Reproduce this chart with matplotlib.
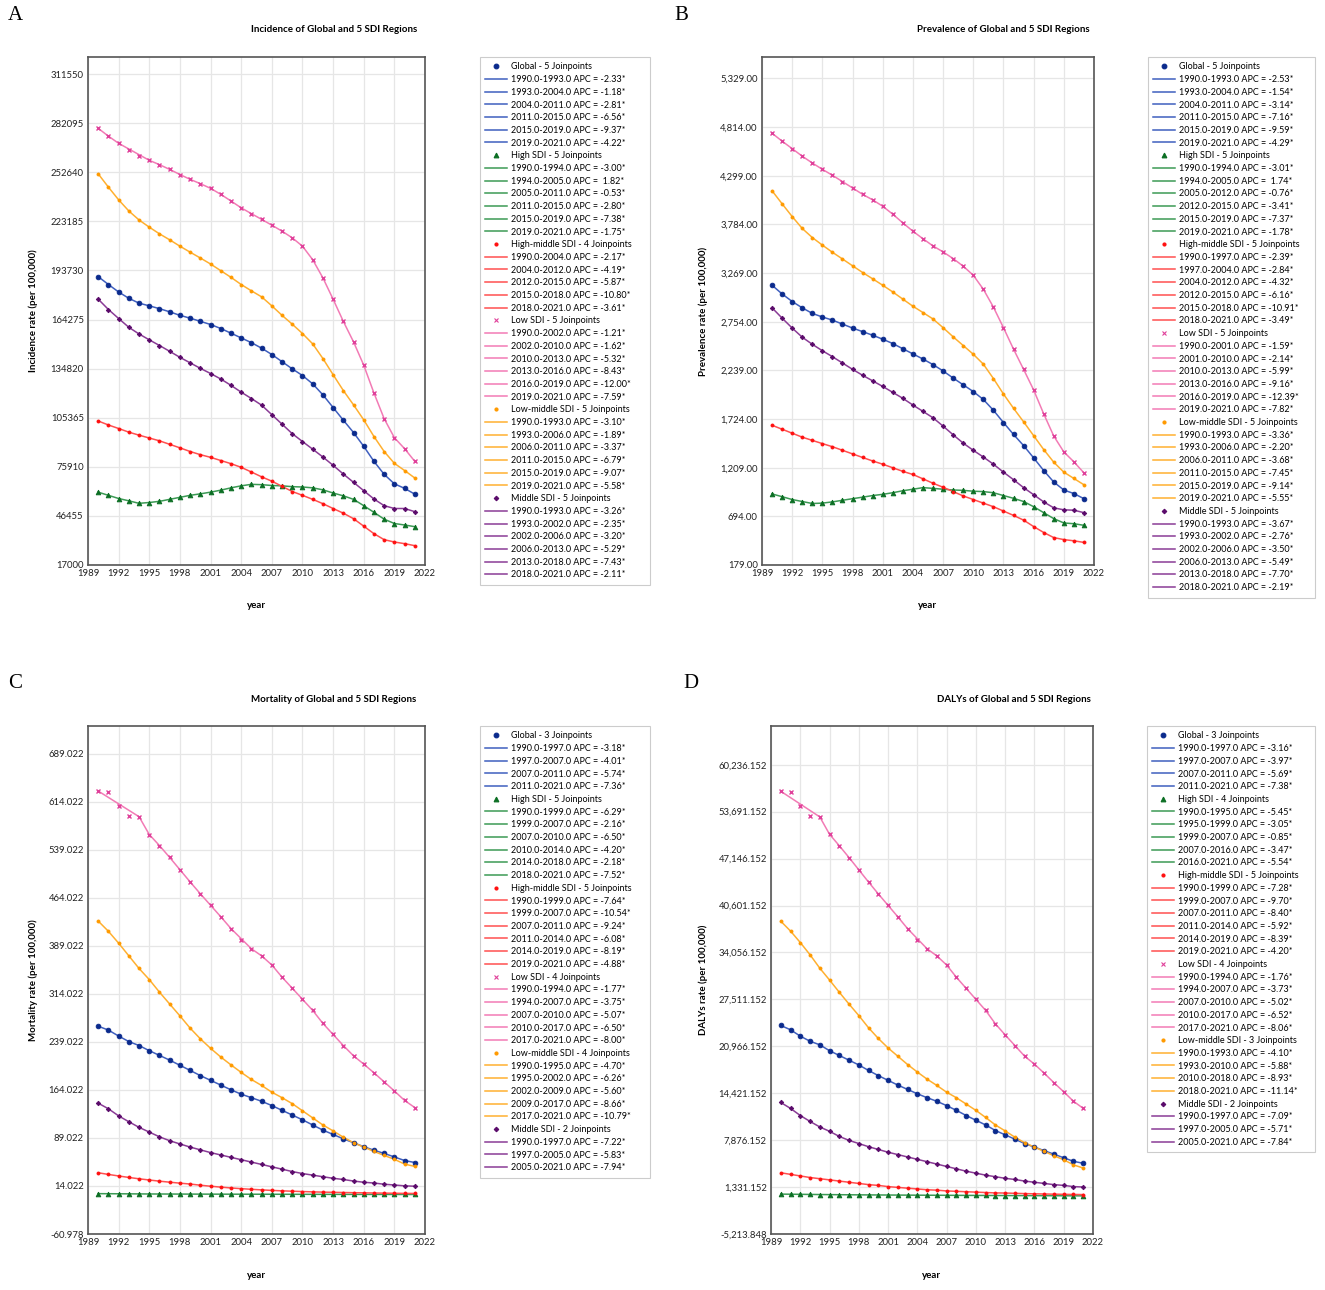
import matplotlib
matplotlib.use('Agg')
import matplotlib.pyplot as plt
from matplotlib.lines import Line2D
from matplotlib.ticker import FixedLocator

plt.rcParams['font.family'] = ['Lato', 'DejaVu Sans']

years = list(range(1990, 2022))

# ---- Incidence (A) ----
inc_global = [190000, 185300, 180800, 177000, 174100, 172500, 170800, 168900, 166800, 165100, 163200, 161300, 158900, 156100, 153200, 150400, 147100, 143300, 139000, 134700, 130700, 125700, 119100, 111500, 103900, 96500, 88200, 79200, 71400, 65700, 63000, 59500]
inc_high = [60700, 58800, 56900, 55500, 54000, 54500, 55200, 56400, 57600, 58800, 59700, 60700, 61900, 63300, 64500, 65400, 65200, 64700, 64500, 64000, 63800, 63300, 62100, 60200, 58500, 56400, 52600, 48600, 44500, 41900, 41000, 40000]
inc_highmid = [103400, 101000, 98900, 96700, 94900, 93200, 91500, 89400, 87300, 85100, 83200, 81600, 79700, 77800, 75600, 72800, 69900, 67300, 64200, 61100, 58800, 56400, 53800, 50900, 48100, 44800, 40300, 35800, 32200, 30800, 29800, 28600]
inc_low = [279000, 274300, 270000, 266200, 262400, 259800, 257200, 254350, 251300, 248400, 245800, 243000, 239400, 235400, 231300, 227800, 224400, 220900, 217300, 213300, 208300, 200200, 189300, 176500, 163200, 150900, 136900, 120200, 104800, 93400, 86800, 79200]
inc_lowmid = [251700, 243700, 236100, 229400, 224000, 219700, 215700, 212100, 208300, 204700, 201200, 197600, 193600, 189600, 185300, 181500, 177900, 172500, 166800, 161500, 155900, 149700, 140900, 131200, 121700, 113100, 104100, 94100, 85100, 78000, 73700, 69200]
inc_middle = [176500, 170300, 164900, 159600, 155600, 152100, 148700, 145200, 141600, 138300, 135000, 131900, 128600, 124800, 120700, 116900, 112900, 107200, 101500, 95800, 91100, 86500, 81800, 76800, 71600, 66600, 61600, 56600, 52600, 50900, 50900, 49000]

inc_global_seg = [(1990, 1993, -2.33), (1993, 2004, -1.18), (2004, 2011, -2.81), (2011, 2015, -6.56), (2015, 2019, -9.37), (2019, 2021, -4.22)]
inc_high_seg = [(1990, 1994, -3.00), (1994, 2005, 1.82), (2005, 2011, -0.53), (2011, 2015, -2.80), (2015, 2019, -7.38), (2019, 2021, -1.75)]
inc_highmid_seg = [(1990, 2004, -2.17), (2004, 2012, -4.19), (2012, 2015, -5.87), (2015, 2018, -10.80), (2018, 2021, -3.61)]
inc_low_seg = [(1990, 2002, -1.21), (2002, 2010, -1.62), (2010, 2013, -5.32), (2013, 2016, -8.43), (2016, 2019, -12.00), (2019, 2021, -7.59)]
inc_lowmid_seg = [(1990, 1993, -3.10), (1993, 2006, -1.89), (2006, 2011, -3.37), (2011, 2015, -6.79), (2015, 2019, -9.07), (2019, 2021, -5.58)]
inc_middle_seg = [(1990, 1993, -3.26), (1993, 2002, -2.35), (2002, 2006, -3.20), (2006, 2013, -5.29), (2013, 2018, -7.43), (2018, 2021, -2.11)]
inc_yticks = [17000, 46455, 75910, 105365, 134820, 164275, 193730, 223185, 252640, 282095, 311550]
# years whose observed point sits off the fitted line
inc_off = [[2004], [], [], [1993, 1994], [], []]

# ---- Prevalence (B) ----
prev_global = [3140, 3048, 2968, 2901, 2842, 2804, 2771, 2729, 2687, 2649, 2611, 2569, 2523, 2468, 2414, 2359, 2300, 2233, 2158, 2086, 2015, 1931, 1817, 1687, 1561, 1443, 1313, 1179, 1057, 973, 935, 881]
prev_high = [931, 902, 872, 851, 830, 834, 847, 864, 881, 897, 914, 927, 944, 965, 981, 998, 990, 981, 973, 969, 960, 956, 944, 914, 885, 851, 796, 733, 670, 624, 616, 599]
prev_highmid = [1658, 1616, 1574, 1532, 1498, 1464, 1431, 1393, 1355, 1317, 1280, 1246, 1208, 1170, 1137, 1091, 1044, 1002, 956, 910, 872, 834, 796, 750, 704, 654, 586, 523, 469, 448, 435, 418]
prev_low = [4749, 4665, 4586, 4506, 4434, 4367, 4304, 4237, 4170, 4102, 4044, 3976, 3892, 3800, 3712, 3632, 3556, 3493, 3422, 3342, 3246, 3098, 2909, 2691, 2464, 2250, 2032, 1779, 1544, 1376, 1271, 1154]
prev_lowmid = [4140, 4002, 3867, 3741, 3645, 3565, 3489, 3418, 3346, 3275, 3208, 3140, 3069, 2993, 2918, 2851, 2783, 2691, 2594, 2502, 2410, 2305, 2153, 1989, 1838, 1695, 1548, 1401, 1267, 1162, 1095, 1028]
prev_middle = [2901, 2792, 2687, 2590, 2515, 2447, 2384, 2317, 2250, 2187, 2128, 2069, 2006, 1943, 1872, 1805, 1737, 1649, 1557, 1469, 1393, 1322, 1246, 1162, 1082, 998, 923, 847, 784, 763, 759, 733]

prev_global_seg = [(1990, 1993, -2.53), (1993, 2004, -1.54), (2004, 2011, -3.14), (2011, 2015, -7.16), (2015, 2019, -9.59), (2019, 2021, -4.29)]
prev_high_seg = [(1990, 1994, -3.01), (1994, 2005, 1.74), (2005, 2012, -0.76), (2012, 2015, -3.41), (2015, 2019, -7.37), (2019, 2021, -1.78)]
prev_highmid_seg = [(1990, 1997, -2.39), (1997, 2004, -2.84), (2004, 2012, -4.32), (2012, 2015, -6.16), (2015, 2018, -10.91), (2018, 2021, -3.49)]
prev_low_seg = [(1990, 2001, -1.59), (2001, 2010, -2.14), (2010, 2013, -5.99), (2013, 2016, -9.16), (2016, 2019, -12.39), (2019, 2021, -7.82)]
prev_lowmid_seg = [(1990, 1993, -3.36), (1993, 2006, -2.20), (2006, 2011, -3.68), (2011, 2015, -7.45), (2015, 2019, -9.14), (2019, 2021, -5.55)]
prev_middle_seg = [(1990, 1993, -3.67), (1993, 2002, -2.76), (2002, 2006, -3.50), (2006, 2013, -5.49), (2013, 2018, -7.70), (2018, 2021, -2.19)]
prev_yticks = [179, 694, 1209, 1724, 2239, 2754, 3269, 3784, 4299, 4814, 5329]
prev_off = [[2004], [], [], [], [], []]

# ---- Mortality (C) ----
mort_global = [263.4, 257.3, 248.0, 239.4, 233.2, 225.2, 217.8, 210.4, 202.4, 194.4, 186.3, 178.9, 171.5, 164.1, 157.3, 151.8, 146.2, 139.5, 132.1, 124.7, 117.3, 109.2, 101.2, 94.4, 87.6, 81.5, 75.3, 69.8, 64.8, 59.3, 53.7, 50.6]
mort_high = [2.0, 1.9, 1.8, 1.7, 1.6, 1.5, 1.45, 1.4, 1.35, 1.3, 1.27, 1.24, 1.21, 1.18, 1.15, 1.12, 1.09, 1.06, 1.03, 1.0, 0.97, 0.94, 0.91, 0.88, 0.86, 0.84, 0.82, 0.80, 0.77, 0.74, 0.72, 0.70]
mort_highmid = [34.6, 32.0, 29.6, 27.3, 25.2, 23.3, 21.5, 19.9, 18.4, 17.0, 15.2, 13.6, 12.2, 10.9, 9.8, 8.8, 7.9, 7.1, 6.4, 5.8, 5.3, 4.8, 4.4, 4.1, 3.8, 3.5, 3.3, 3.0, 2.8, 2.6, 2.4, 2.3]
mort_low = [630.5, 629.2, 607.6, 591.6, 590.4, 562.6, 545.3, 526.8, 507.7, 488.6, 470.1, 452.2, 434.3, 415.8, 397.9, 384.3, 373.2, 359.0, 339.9, 322.7, 305.4, 288.1, 267.8, 250.5, 233.2, 217.2, 204.2, 190.7, 176.5, 162.3, 147.5, 136.4]
mort_lowmid = [427.5, 411.5, 393.0, 373.2, 353.5, 336.2, 316.5, 298.0, 279.5, 260.4, 243.7, 228.9, 215.3, 203.0, 191.3, 180.2, 170.9, 160.4, 151.8, 142.5, 131.4, 120.3, 109.2, 100.0, 90.1, 81.5, 74.7, 67.9, 61.7, 55.6, 48.2, 44.5]
mort_middle = [143.2, 134.5, 123.4, 114.2, 105.5, 98.1, 90.7, 84.6, 79.6, 74.7, 70.4, 66.1, 62.4, 58.7, 55.0, 51.3, 47.6, 43.9, 40.2, 36.5, 33.4, 30.9, 28.4, 26.0, 24.1, 21.7, 19.8, 18.6, 16.7, 15.5, 14.2, 13.6]

mort_global_seg = [(1990, 1997, -3.18), (1997, 2007, -4.01), (2007, 2011, -5.74), (2011, 2021, -7.36)]
mort_high_seg = [(1990, 1999, -6.29), (1999, 2007, -2.16), (2007, 2010, -6.50), (2010, 2014, -4.20), (2014, 2018, -2.18), (2018, 2021, -7.52)]
mort_highmid_seg = [(1990, 1999, -7.64), (1999, 2007, -10.54), (2007, 2011, -9.24), (2011, 2014, -6.08), (2014, 2019, -8.19), (2019, 2021, -4.88)]
mort_low_seg = [(1990, 1994, -1.77), (1994, 2007, -3.75), (2007, 2010, -5.07), (2010, 2017, -6.50), (2017, 2021, -8.00)]
mort_lowmid_seg = [(1990, 1995, -4.70), (1995, 2002, -6.26), (2002, 2009, -5.60), (2009, 2017, -8.66), (2017, 2021, -10.79)]
mort_middle_seg = [(1990, 1997, -7.22), (1997, 2005, -5.83), (2005, 2021, -7.94)]
mort_yticks = [-60.978, 14.022, 89.022, 164.022, 239.022, 314.022, 389.022, 464.022, 539.022, 614.022, 689.022]
mort_off = [[], [], [], [1991, 1992, 1993, 2004], [], []]

# ---- DALYs (D) ----
daly_global = [23874, 23268, 22386, 21670, 21174, 20348, 19687, 19026, 18365, 17593, 16877, 16216, 15555, 14949, 14343, 13792, 13296, 12690, 12029, 11313, 10652, 9991, 9220, 8614, 8008, 7402, 6906, 6410, 5914, 5418, 4923, 4647]
daly_high = [350, 335, 320, 305, 290, 278, 266, 255, 246, 238, 230, 222, 215, 208, 201, 195, 189, 183, 177, 171, 166, 160, 155, 150, 145, 140, 135, 130, 124, 118, 112, 107]
daly_highmid = [3325, 3105, 2884, 2664, 2499, 2334, 2168, 2003, 1838, 1672, 1562, 1397, 1287, 1177, 1067, 956, 901, 791, 736, 681, 626, 571, 516, 500, 460, 420, 390, 365, 340, 320, 300, 285]
daly_low = [56542, 56432, 54504, 53071, 52961, 50537, 48939, 47287, 45579, 43871, 42218, 40621, 39023, 37371, 35773, 34561, 33569, 32302, 30595, 29052, 27509, 25967, 24094, 22551, 21064, 19576, 18475, 17208, 15885, 14618, 13296, 12305]
daly_lowmid = [38417, 37040, 35442, 33735, 31862, 30209, 28501, 26848, 25251, 23543, 22056, 20733, 19576, 18420, 17373, 16381, 15500, 14563, 13792, 12911, 12029, 11038, 9991, 9164, 8283, 7512, 6906, 6300, 5694, 5143, 4427, 3986]
daly_middle = [13131, 12305, 11313, 10487, 9715, 9109, 8393, 7842, 7402, 6961, 6575, 6190, 5859, 5529, 5198, 4867, 4537, 4206, 3876, 3545, 3270, 2994, 2774, 2554, 2388, 2168, 2003, 1838, 1672, 1562, 1397, 1342]

daly_global_seg = [(1990, 1997, -3.16), (1997, 2007, -3.97), (2007, 2011, -5.69), (2011, 2021, -7.38)]
daly_high_seg = [(1990, 1995, -5.45), (1995, 1999, -3.05), (1999, 2007, -0.85), (2007, 2016, -3.47), (2016, 2021, -5.54)]
daly_highmid_seg = [(1990, 1999, -7.28), (1999, 2007, -9.70), (2007, 2011, -8.40), (2011, 2014, -5.92), (2014, 2019, -8.39), (2019, 2021, -4.20)]
daly_low_seg = [(1990, 1994, -1.76), (1994, 2007, -3.73), (2007, 2010, -5.02), (2010, 2017, -6.52), (2017, 2021, -8.06)]
daly_lowmid_seg = [(1990, 1993, -4.10), (1993, 2010, -5.88), (2010, 2018, -8.93), (2018, 2021, -11.14)]
daly_middle_seg = [(1990, 1997, -7.09), (1997, 2005, -5.71), (2005, 2021, -7.84)]
daly_yticks = [-5213.848, 1331.152, 7876.152, 14421.152, 20966.152, 27511.152, 34056.152, 40601.152, 47146.152, 53691.152, 60236.152]
daly_off = [[], [], [], [1991, 1992, 1993, 2004], [], []]

group_names = ['Global', 'High SDI', 'High-middle SDI', 'Low SDI', 'Low-middle SDI', 'Middle SDI']
# marker, marker size, marker color, line color
styles = [
    ('o', 3.4, '#0a2a8c', '#3f5fbf'),
    ('^', 3.4, '#0b6e23', '#3c9a55'),
    ('o', 2.2, '#ff1010', '#ff5050'),
    ('x', 3.4, '#e0409a', '#f27bb5'),
    ('o', 2.2, '#ff9a00', '#ffb030'),
    ('D', 2.3, '#5a0a6a', '#8a3c96'),
]

W, H = 1325, 1290
fig = plt.figure(figsize=(W / 100, H / 100), dpi=100)


def fx(px):
    return px / W


def fy(py):
    return 1 - py / H


def draw_panel(letter, rect, leg_box, title, title_x, ylabel, ylabel_x,
               series, segs, offs, yticks, ylim, fmt):
    l, t, r, b = rect
    ax = fig.add_axes([fx(l), fy(b), fx(r - l), (b - t) / H])
    handles = []
    for name, obs, seg, off, (mk, ms, mc, lc) in zip(group_names, series, segs, offs, styles):
        ax.plot(years, obs, ls='none', marker=mk, ms=ms, color=mc,
                mew=1.0 if mk == 'x' else 0.6, zorder=3)
        line_x = [y for y in years if y not in off]
        ax.plot(line_x, [obs[years.index(y)] for y in line_x], color=lc, lw=1.1, zorder=2)
        handles.append(Line2D([], [], ls='none', marker=mk, ms=ms, color=mc, mew=0.8,
                              label=f"{name} - {len(seg) - 1} Joinpoints"))
        for s, e, a in seg:
            handles.append(Line2D([], [], color=lc, lw=1.1,
                                  label=f"{s:.1f}-{e:.1f} APC = {a:5.2f}*"))
    ax.set_xlim(1989, 2022)
    ax.set_ylim(*ylim)
    ax.xaxis.set_major_locator(FixedLocator(list(range(1989, 2023, 3))))
    ax.yaxis.set_major_locator(FixedLocator(yticks))
    ax.set_yticklabels([fmt(v) for v in yticks])
    ax.tick_params(length=0, labelsize=6.8, pad=3, colors='#222222')
    ax.grid(True, color='#e6e6e6', lw=0.9)
    ax.set_axisbelow(True)
    for sp in ax.spines.values():
        sp.set_color('#555555')
        sp.set_linewidth(1.2)

    lx, ly, lw = leg_box
    leg = fig.legend(handles=handles, loc='upper left', mode='expand',
                     bbox_to_anchor=(fx(lx), fy(ly), fx(lw), 0),
                     fontsize=6.5, frameon=True, fancybox=False,
                     edgecolor='#c0c0c0', handlelength=2.4, handletextpad=0.4,
                     labelspacing=0.41, borderpad=0.6, borderaxespad=0)
    leg.get_frame().set_linewidth(0.8)

    fig.text(fx(l - 80 if letter in 'AC' else l - 88), fy(t - 42), letter,
             fontsize=15, family='Liberation Serif', va='center', ha='left')
    fig.text(fx(title_x), fy(t - 27), title, fontsize=7, weight='bold',
             ha='center', va='center')
    fig.text(fx(ylabel_x), fy((t + b) / 2), ylabel, fontsize=7, weight='bold',
             rotation=90, ha='center', va='center')
    fig.text(fx((l + r) / 2), fy(b + 41), 'year', fontsize=7, weight='bold',
             ha='center', va='center')


draw_panel('A', (88, 57, 425, 565), (480, 57, 170),
           'Incidence of Global and 5 SDI Regions', 334,
           'Incidence rate (per 100,000)', 33,
           [inc_global, inc_high, inc_highmid, inc_low, inc_lowmid, inc_middle],
           [inc_global_seg, inc_high_seg, inc_highmid_seg, inc_low_seg, inc_lowmid_seg, inc_middle_seg],
           inc_off, inc_yticks, (17000, 321800), lambda v: f"{v:.0f}")

draw_panel('B', (762, 57, 1094, 565), (1148, 57, 167),
           'Prevalence of Global and 5 SDI Regions', 1003,
           'Prevalence rate (per 100,000)', 703,
           [prev_global, prev_high, prev_highmid, prev_low, prev_lowmid, prev_middle],
           [prev_global_seg, prev_high_seg, prev_highmid_seg, prev_low_seg, prev_lowmid_seg, prev_middle_seg],
           prev_off, prev_yticks, (179, 5556), lambda v: f"{v:,.2f}")

draw_panel('C', (88, 726, 425, 1234), (480, 726, 170),
           'Mortality of Global and 5 SDI Regions', 334,
           'Mortality rate (per 100,000)', 33,
           [mort_global, mort_high, mort_highmid, mort_low, mort_lowmid, mort_middle],
           [mort_global_seg, mort_high_seg, mort_highmid_seg, mort_low_seg, mort_lowmid_seg, mort_middle_seg],
           mort_off, mort_yticks, (-60.978, 732), lambda v: f"{v:.3f}")

draw_panel('D', (771, 726, 1093, 1234), (1147, 726, 168),
           'DALYs of Global and 5 SDI Regions', 1014,
           'DALYs rate (per 100,000)', 703,
           [daly_global, daly_high, daly_highmid, daly_low, daly_lowmid, daly_middle],
           [daly_global_seg, daly_high_seg, daly_highmid_seg, daly_low_seg, daly_lowmid_seg, daly_middle_seg],
           daly_off, daly_yticks, (-5213.848, 65640), lambda v: f"{v:,.3f}")

fig.savefig('out.png', dpi=100)
